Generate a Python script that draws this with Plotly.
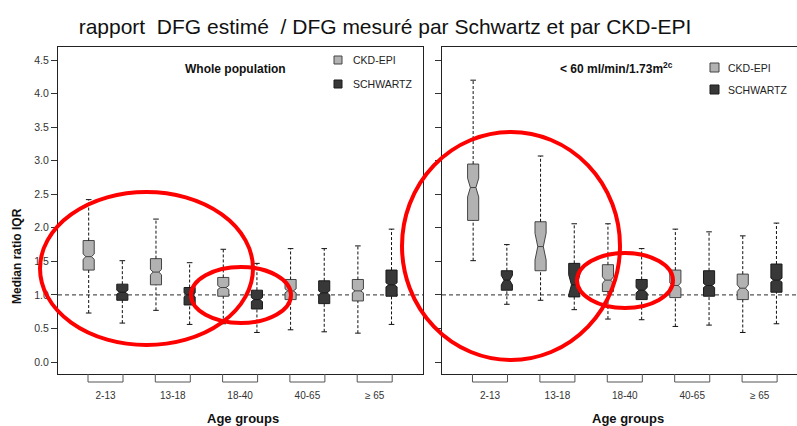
import plotly.graph_objects as go

# ---------------- data ----------------
age_groups = ["2-13", "13-18", "18-40", "40-65", "≥ 65"]

# Whole population
whole_ckd_q1 = [1.37, 1.15, 0.98, 0.93, 0.91]
whole_ckd_median = [1.57, 1.34, 1.11, 1.06, 1.06]
whole_ckd_q3 = [1.81, 1.54, 1.26, 1.23, 1.23]
whole_ckd_low = [0.73, 0.77, 0.57, 0.48, 0.43]
whole_ckd_high = [2.42, 2.13, 1.68, 1.69, 1.73]
whole_ckd_notch = [0.04, 0.04, 0.03, 0.03, 0.03]

whole_sch_q1 = [0.92, 0.85, 0.79, 0.87, 0.98]
whole_sch_median = [1.04, 1.00, 0.93, 1.03, 1.15]
whole_sch_q3 = [1.16, 1.11, 1.07, 1.21, 1.37]
whole_sch_low = [0.58, 0.56, 0.44, 0.45, 0.56]
whole_sch_high = [1.51, 1.48, 1.47, 1.69, 1.98]
whole_sch_notch = [0.03, 0.03, 0.03, 0.03, 0.03]

# < 60 ml/min/1.73m2
low_ckd_q1 = [2.11, 1.36, 1.05, 0.96, 0.93]
low_ckd_median = [2.60, 1.72, 1.22, 1.14, 1.10]
low_ckd_q3 = [2.95, 2.09, 1.45, 1.37, 1.31]
low_ckd_low = [1.51, 0.92, 0.64, 0.53, 0.44]
low_ckd_high = [4.20, 3.07, 2.06, 1.98, 1.88]
low_ckd_notch = [0.14, 0.20, 0.05, 0.04, 0.05]

low_sch_q1 = [1.07, 0.97, 0.93, 0.98, 1.04]
low_sch_median = [1.22, 1.15, 1.07, 1.14, 1.22]
low_sch_q3 = [1.36, 1.47, 1.23, 1.36, 1.46]
low_sch_low = [0.86, 0.78, 0.63, 0.55, 0.57]
low_sch_high = [1.75, 2.06, 1.69, 1.94, 2.07]
low_sch_notch = [0.07, 0.15, 0.04, 0.03, 0.03]

y_ticks = [0.0, 0.5, 1.0, 1.5, 2.0, 2.5, 3.0, 3.5, 4.0, 4.5]
reference_ratio = 1.0

# ---------------- layout constants ----------------
W, H = 797, 426
ML, MR, MT, MB = 58, 0, 47, 52
PW, PH = W - ML - MR, H - MT - MB
FONT = "Liberation Sans, Arial, sans-serif"

CKD_FILL, CKD_LINE = "#b2b2b2", "#444444"
SCH_FILL, SCH_LINE = "#383838", "#1a1a1a"


def px_x(p):
    return (p - ML) / PW


def px_y(p):
    return (H - MB - p) / PH


fig = go.Figure()

panels = [
    dict(xa="x", ya="y",
         series=[("CKD-EPI", -0.25, whole_ckd_q1, whole_ckd_median, whole_ckd_q3,
                  whole_ckd_low, whole_ckd_high, whole_ckd_notch, CKD_FILL, CKD_LINE),
                 ("SCHWARTZ", 0.25, whole_sch_q1, whole_sch_median, whole_sch_q3,
                  whole_sch_low, whole_sch_high, whole_sch_notch, SCH_FILL, SCH_LINE)]),
    dict(xa="x2", ya="y2",
         series=[("CKD-EPI", -0.25, low_ckd_q1, low_ckd_median, low_ckd_q3,
                  low_ckd_low, low_ckd_high, low_ckd_notch, CKD_FILL, CKD_LINE),
                 ("SCHWARTZ", 0.25, low_sch_q1, low_sch_median, low_sch_q3,
                  low_sch_low, low_sch_high, low_sch_notch, SCH_FILL, SCH_LINE)]),
]

for p in panels:
    for name, off, q1, med, q3, lo, hi, notch, fill, line in p["series"]:
        xs = [i + off for i in range(len(age_groups))]
        # whiskers (dashed)
        wx, wy = [], []
        for x, a, b, c, d in zip(xs, lo, q1, q3, hi):
            wx += [x, x, None, x, x, None]
            wy += [a, b, None, c, d, None]
        fig.add_trace(go.Scatter(x=wx, y=wy, mode="lines", xaxis=p["xa"], yaxis=p["ya"],
                                 line=dict(color="#111111", width=1, dash="3px,2px"),
                                 showlegend=False, hoverinfo="skip"))
        fig.add_trace(go.Scatter(x=xs + xs, y=lo + hi, mode="markers",
                                 xaxis=p["xa"], yaxis=p["ya"],
                                 marker=dict(symbol="line-ew", size=4,
                                             line=dict(color="#111111", width=1)),
                                 showlegend=False, hoverinfo="skip"))
        fig.add_trace(go.Box(x=xs, q1=q1, median=med, q3=q3, lowerfence=q1, upperfence=q3,
                             notched=True, notchspan=notch, notchwidth=0.25,
                             width=0.165, whiskerwidth=0, boxpoints=False,
                             fillcolor=fill, line=dict(color=line, width=1),
                             xaxis=p["xa"], yaxis=p["ya"], name=name,
                             showlegend=False, hoverinfo="skip"))

# axes
dom1 = [0, (423 - ML) / PW]
dom2 = [(442 - ML) / PW, 1]
xr1 = [(58 - 105.5) / 67.3, (423 - 105.5) / 67.3]
xr2 = [(442 - 490) / 67.4, (797 - 490) / 67.4]
yr = [-12 / 67.1, (362 - 47) / 67.1]

xcommon = dict(tickvals=list(range(len(age_groups))), ticktext=age_groups,
               ticks="outside", ticklen=12, tickcolor="rgba(0,0,0,0)",
               showline=True, linecolor="#222222", linewidth=1, showgrid=False,
               zeroline=False, mirror=True,
               tickfont=dict(family=FONT, size=10, color="#333333"))
ycommon = dict(range=yr, tickvals=y_ticks, tickformat=".1f", ticks="outside", ticklen=6,
               tickcolor="#333333", showline=True, linecolor="#222222", linewidth=1,
               showgrid=False, zeroline=False,
               tickfont=dict(family=FONT, size=10.5, color="#333333"))

fig.update_layout(
    xaxis=dict(domain=dom1, range=xr1, anchor="y", **xcommon),
    xaxis2=dict(domain=dom2, range=xr2, anchor="y2", **xcommon),
    yaxis=dict(anchor="x", mirror=True, **ycommon),
    yaxis2=dict(anchor="x2", showticklabels=False, mirror=False, **ycommon),
)

shapes = []
# reference line at 1.0
for xa, ya in [("x", "y"), ("x2", "y2")]:
    shapes.append(dict(type="line", xref=xa + " domain", yref=ya, x0=0, x1=1,
                       y0=reference_ratio, y1=reference_ratio, layer="below",
                       line=dict(color="#555555", width=1.2, dash="4px,3px")))
    # group brackets below the axis
    b = 8 / PH
    for i in range(len(age_groups)):
        shapes.append(dict(type="path", xref=xa, yref=ya + " domain",
                           path=f"M {i-0.26},0 L {i-0.26},{-b} L {i+0.26},{-b} L {i+0.26},0",
                           line=dict(color="#555555", width=1)))

# legend squares
legend_items = [
    (334, 342, 56, 64, CKD_FILL, CKD_LINE), (334, 342, 80, 88, SCH_FILL, SCH_LINE),
    (710, 719, 63, 72, CKD_FILL, CKD_LINE), (710, 719, 85, 94, SCH_FILL, SCH_LINE),
]
for x0, x1, y0, y1, f, l in legend_items:
    shapes.append(dict(type="rect", xref="paper", yref="paper",
                       x0=px_x(x0), x1=px_x(x1), y0=px_y(y1), y1=px_y(y0),
                       fillcolor=f, line=dict(color=l, width=1)))

# red hand-drawn highlight ellipses
ellipses = [(40, 253, 192, 345), (191, 291, 267, 323), (402, 620, 132, 360), (577, 673, 253, 308)]
for x0, x1, y0, y1 in ellipses:
    shapes.append(dict(type="circle", xref="paper", yref="paper",
                       x0=px_x(x0), x1=px_x(x1), y0=px_y(y1), y1=px_y(y0),
                       line=dict(color="#ff0000", width=4), layer="above"))

fig.update_layout(shapes=shapes)

ann = []


def add_text(text, x, y, size, xanchor="left", bold=False, color="#111111", angle=0):
    ann.append(dict(text=f"<b>{text}</b>" if bold else text, xref="paper", yref="paper",
                    x=px_x(x), y=px_y(y), xanchor=xanchor, yanchor="middle",
                    showarrow=False, textangle=angle,
                    font=dict(family=FONT, size=size, color=color)))


add_text("Whole population", 183, 69, 12, bold=True)
add_text("&lt; 60 ml/min/1.73m<sup>2c</sup>", 558, 68, 12, bold=True)
add_text("CKD-EPI", 351, 60, 10.5, color="#222222")
add_text("SCHWARTZ", 351, 84, 10.5, color="#222222")
add_text("CKD-EPI", 726, 68, 10.5, color="#222222")
add_text("SCHWARTZ", 726, 90, 10.5, color="#222222")
add_text("Age groups", 243, 418, 13, xanchor="center", bold=True)
add_text("Age groups", 628, 418, 13, xanchor="center", bold=True)
add_text("Median ratio IQR", 17, 256, 12, xanchor="center", bold=True, angle=-90)

fig.update_layout(
    annotations=ann,
    width=W, height=H,
    margin=dict(l=ML, r=MR, t=MT, b=MB, pad=0),
    paper_bgcolor="white", plot_bgcolor="white",
    boxmode="overlay",
    showlegend=False,
    title=dict(text="rapport  DFG estimé  / DFG mesuré par Schwartz et par CKD-EPI",
               x=385 / W, xanchor="center", y=1 - 27 / H, yanchor="middle",
               font=dict(family=FONT, size=21, color="#111111")),
)

fig.write_html("out.html")
